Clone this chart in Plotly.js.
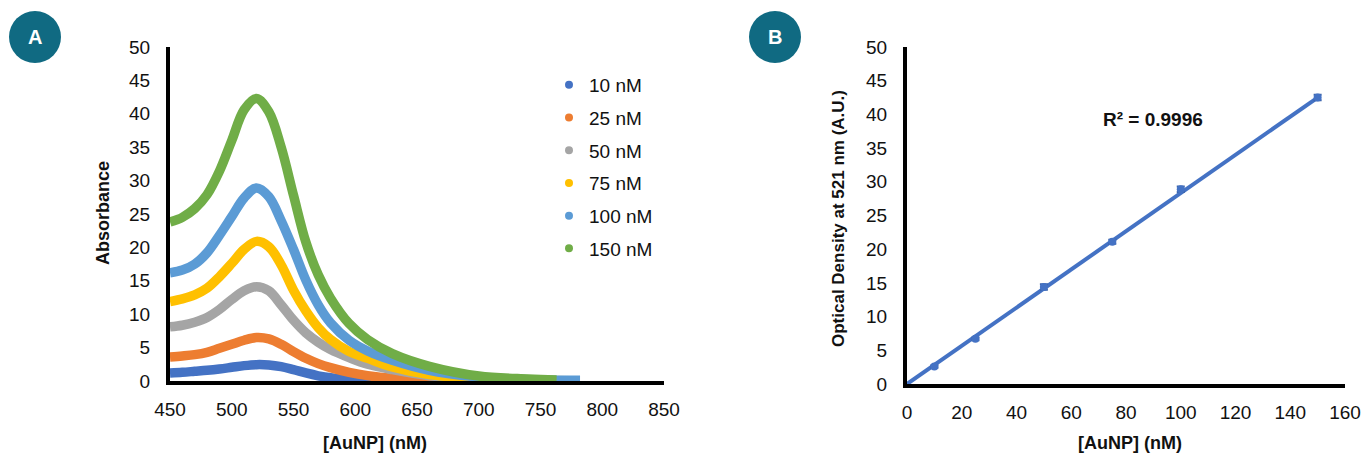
<!DOCTYPE html>
<html>
<head>
<meta charset="utf-8">
<script src="https://cdn.plot.ly/plotly-3.0.1.min.js"></script>
<style>html,body{margin:0;padding:0;background:#fff;}#chart{width:1366px;height:456px;}</style>
</head>
<body>
<div id="chart"></div>
<script>
// ---------- Panel A: absorbance spectra ----------
const seriesNames = ["10 nM", "25 nM", "50 nM", "75 nM", "100 nM", "150 nM"];
const seriesColors = ["#4472C4", "#ED7D31", "#A5A5A5", "#FFC000", "#5B9BD5", "#70AD47"];
const wavelength = [450, 460, 470, 480, 490, 500, 510, 520, 530, 540, 550, 560, 570, 580, 595, 610, 630, 660, 700, 740];
const endWavelength = [780, 767, 775, 772, 782, 763];
const abs10  = [1.2, 1.3, 1.45, 1.6, 1.8, 2.05, 2.3, 2.45, 2.4, 2.15, 1.7, 1.2, 0.78, 0.48, 0.25, 0.15, 0.1, 0.05, 0.02, 0.0, 0.0];
const abs25  = [3.6, 3.75, 3.95, 4.3, 4.9, 5.5, 6.1, 6.5, 6.3, 5.5, 4.4, 3.4, 2.6, 2.0, 1.3, 0.8, 0.4, 0.2, 0.1, 0.05, 0.02];
const abs50  = [8.1, 8.35, 8.8, 9.5, 10.7, 12.2, 13.5, 14.1, 13.5, 11.4, 9.1, 7.2, 5.8, 4.7, 3.5, 2.5, 1.7, 0.8, 0.3, 0.1, 0.05];
const abs75  = [11.9, 12.3, 12.9, 13.9, 15.6, 17.6, 19.7, 20.9, 20.1, 17.4, 13.6, 10.5, 8.0, 6.2, 4.4, 3.4, 2.1, 0.95, 0.35, 0.1, 0.05];
const abs100 = [16.2, 16.6, 17.5, 19.2, 21.8, 24.6, 27.4, 28.9, 27.6, 24.0, 19.7, 15.1, 11.4, 8.7, 6.1, 4.5, 3.1, 1.6, 0.6, 0.2, 0.1];
const abs150 = [23.8, 24.5, 25.8, 27.9, 31.4, 36.0, 40.6, 42.3, 40.3, 35.0, 27.8, 20.8, 15.9, 12.4, 8.6, 6.2, 4.1, 2.2, 0.75, 0.3, 0.15];
const absSeries = [abs10, abs25, abs50, abs75, abs100, abs150];

// ---------- Panel B: calibration ----------
const concentration = [10, 25, 50, 75, 100, 150];
const opticalDensity = [2.6, 6.7, 14.4, 21.1, 28.9, 42.5];
const odError = [0.2, 0.2, 0.4, 0.3, 0.4, 0.4];
const fitX = [0, 150];
const fitY = [0, 42.5];
const r2Label = "R² = 0.9996";

const W = 1366, H = 456;
const px = v => v / W;
const py = v => 1 - v / H;

const traces = [];
absSeries.forEach((vals, i) => {
  traces.push({
    x: wavelength.concat([endWavelength[i]]),
    y: vals,
    type: "scatter", mode: "lines",
    line: {color: seriesColors[i], width: 9.5, shape: "spline", smoothing: 1},
    xaxis: "x", yaxis: "y", showlegend: false, hoverinfo: "skip"
  });
});
seriesNames.forEach((n, i) => {
  traces.push({
    x: [null], y: [null], type: "scatter", mode: "markers", name: n,
    legendgroup: "g" + i,
    marker: {color: seriesColors[i], size: 8},
    xaxis: "x", yaxis: "y", showlegend: true
  });
});
traces.push({
  x: fitX, y: fitY, type: "scatter", mode: "lines",
  line: {color: "#4472C4", width: 4},
  xaxis: "x2", yaxis: "y2", showlegend: false
});
traces.push({
  x: concentration, y: opticalDensity, type: "scatter", mode: "markers",
  marker: {color: "#4472C4", size: 8},
  error_y: {type: "data", array: odError, visible: true, color: "#3A62A8", thickness: 2, width: 4},
  xaxis: "x2", yaxis: "y2", showlegend: false
});

const tickFont = {family: "Liberation Sans, Arial, sans-serif", size: 19, color: "#111"};
const axBase = {
  showgrid: false, zeroline: false, showline: true, linecolor: "#000", linewidth: 4,
  ticks: "", tickfont: tickFont, fixedrange: true
};
const ann = (text, x, y, size, color, extra) => Object.assign({
  text: text, xref: "paper", yref: "paper", x: px(x), y: py(y),
  xanchor: "center", yanchor: "middle", showarrow: false,
  font: {family: "Liberation Sans, Arial, sans-serif", size: size, color: color}
}, extra || {});

const layout = {
  width: W, height: H,
  margin: {l: 0, r: 0, t: 0, b: 0},
  paper_bgcolor: "#fff", plot_bgcolor: "#fff",
  showlegend: true,
  legend: {
    x: px(549), y: py(66), xanchor: "left", yanchor: "top",
    font: {family: "Liberation Sans, Arial, sans-serif", size: 19, color: "#111"},
    bgcolor: "rgba(0,0,0,0)", traceorder: "grouped", tracegroupgap: 5
  },
  xaxis: Object.assign({}, axBase, {domain: [px(170), px(664)], range: [450, 850], dtick: 50, anchor: "y", ticklabelstandoff: 8}),
  yaxis: Object.assign({}, axBase, {domain: [py(381), py(47)], range: [0, 50], dtick: 5, anchor: "x", ticklabelstandoff: 12}),
  xaxis2: Object.assign({}, axBase, {domain: [px(907), px(1345)], range: [0, 160], dtick: 20, anchor: "y2", ticklabelstandoff: 8}),
  yaxis2: Object.assign({}, axBase, {domain: [py(384), py(47)], range: [0, 50], dtick: 5, anchor: "x2", ticklabelstandoff: 12}),
  shapes: [
    {type: "circle", xref: "paper", yref: "paper", x0: px(9), x1: px(61), y0: py(63), y1: py(11), fillcolor: "#106A82", line: {width: 0}},
    {type: "circle", xref: "paper", yref: "paper", x0: px(749), x1: px(801), y0: py(63), y1: py(11), fillcolor: "#106A82", line: {width: 0}}
  ],
  annotations: [
    ann("<b>A</b>", 35, 37, 20, "#fff"),
    ann("<b>B</b>", 775, 37, 20, "#fff"),
    ann("<b>[AuNP] (nM)</b>", 375, 443, 18, "#111"),
    ann("<b>[AuNP] (nM)</b>", 1130, 443, 18, "#111"),
    ann("<b>Absorbance</b>", 103, 213, 18, "#111", {textangle: -90}),
    ann("<b>Optical Density at 521 nm (A.U.)</b>", 838, 219, 17, "#111", {textangle: -90}),
    ann("<b>" + r2Label + "</b>", 1153, 120, 19, "#111")
  ]
};

Plotly.newPlot("chart", traces, layout, {staticPlot: true, displayModeBar: false});
</script>
</body>
</html>
